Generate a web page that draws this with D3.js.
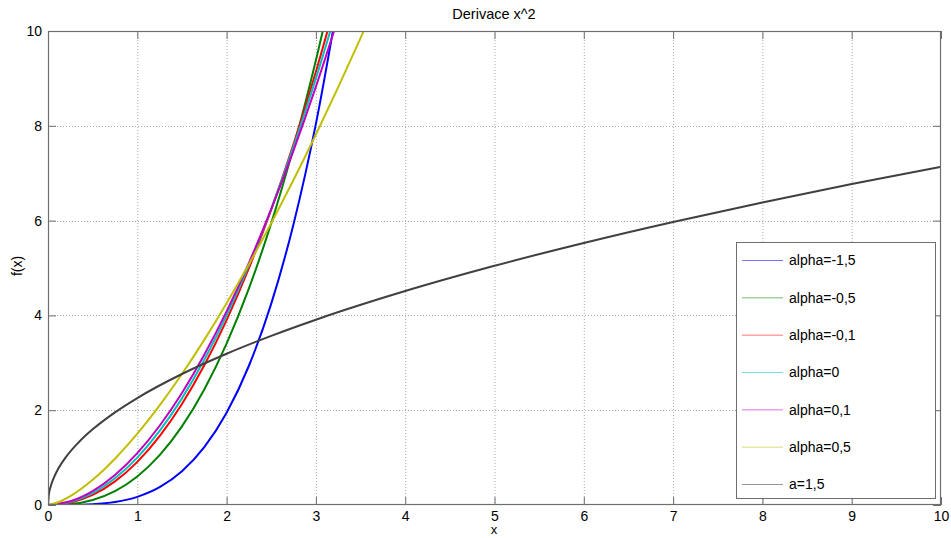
<!DOCTYPE html>
<html>
<head>
<meta charset="utf-8">
<script src="https://cdn.jsdelivr.net/npm/d3@7"></script>
<style>
  html, body { margin: 0; padding: 0; background: #fff; }
  svg { display: block; font-family: "Liberation Sans", Arial, Helvetica, sans-serif; }
</style>
</head>
<body>
<svg id="chart" width="951" height="538"></svg>
<script>
// Fractional derivatives of x^2, sampled values
const xSteep = [0, 0.25, 0.5, 0.75, 1, 1.25, 1.5, 1.75, 2, 2.25, 2.5, 2.75, 3, 3.25];
const yAlphaM15 = [0, 0.00134, 0.0152, 0.0628, 0.1719, 0.3755, 0.7107, 1.2190, 1.9453, 2.9378, 4.2478, 5.930, 8.0408, 10.641];
const yAlphaM05 = [0, 0.01881, 0.10638, 0.29316, 0.6018, 1.0513, 1.65837, 2.43808, 3.40432, 4.56992, 5.94706, 7.5471, 9.3812, 11.4594];
const yAlphaM01 = [0, 0.04952, 0.21228, 0.4974, 0.91007, 1.45408, 2.13239, 2.94736, 3.90154, 4.99613, 6.23342, 7.61469, 9.14169, 10.8149];
const yAlpha0   = [0, 0.0625, 0.25, 0.5625, 1, 1.5625, 2.25, 3.0625, 4, 5.0625, 6.25, 7.5625, 9, 10.5625];
const yAlpha01  = [0, 0.07857, 0.29325, 0.63361, 1.09447, 1.67236, 2.3647, 3.16951, 4.08472, 5.10937, 6.24185, 7.48095, 8.82543, 10.2752];

const xHalf = [0, 0.1, 0.25, 0.5, 0.75, 1, 1.25, 1.5, 1.75, 2, 2.25, 2.5, 2.75, 3, 3.25, 3.5, 3.75];
const yAlpha05 = [0, 0.04758, 0.18806, 0.53192, 0.97721, 1.50451, 2.10261, 2.76397, 3.48299, 4.2554, 5.07772, 5.9471, 6.86106, 7.81766, 8.81495, 9.85138, 10.9255];

const xRoot = [0, 0.01, 0.03, 0.06, 0.1, 0.2, 0.35, 0.5, 0.75, 1, 1.5, 2, 2.5, 3, 4, 5, 6, 7, 8, 9, 10];
const yA15 = [0, 0.22568, 0.39089, 0.55279, 0.71365, 1.00926, 1.33513, 1.59577, 1.95441, 2.25676, 2.76395, 3.19156, 3.56826, 3.90881, 4.51352, 5.04627, 5.52797, 5.97085, 6.38318, 6.77028, 7.13647];

const seriesNames = ["alpha=-1,5", "alpha=-0,5", "alpha=-0,1", "alpha=0", "alpha=0,1", "alpha=0,5", "a=1,5"];
const seriesColors = ["#0000ff", "#008000", "#ff0000", "#00bfbf", "#bf00bf", "#bfbf00", "#404040"];
const seriesX = [xSteep, xSteep, xSteep, xSteep, xSteep, xHalf, xRoot];
const seriesY = [yAlphaM15, yAlphaM05, yAlphaM01, yAlpha0, yAlpha01, yAlpha05, yA15];

const xTicks = [0, 1, 2, 3, 4, 5, 6, 7, 8, 9, 10];
const yTicks = [0, 2, 4, 6, 8, 10];

const svg = d3.select("#chart");
const L = 48, R = 941, T = 31, B = 505;

const x = d3.scaleLinear().domain([0, 10]).range([L, R]);
const y = d3.scaleLinear().domain([0, 10]).range([B, T]);

// grid
const grid = svg.append("g");
grid.selectAll("line.gx").data(xTicks.slice(1, -1)).join("line")
  .attr("x1", d => x(d) + 0.5).attr("x2", d => x(d) + 0.5)
  .attr("y1", T).attr("y2", B)
  .attr("stroke", "#aaa").attr("stroke-width", 1).attr("stroke-dasharray", "1,2");
grid.selectAll("line.gy").data(yTicks.slice(1, -1)).join("line")
  .attr("y1", d => Math.round(y(d)) + 0.5).attr("y2", d => Math.round(y(d)) + 0.5)
  .attr("x1", L).attr("x2", R)
  .attr("stroke", "#aaa").attr("stroke-width", 1).attr("stroke-dasharray", "1,2");

// clip to the axes box
svg.append("clipPath").attr("id", "plotclip")
  .append("rect").attr("x", L).attr("y", T).attr("width", R - L).attr("height", B - T);

const line = d3.line().curve(d3.curveMonotoneX);
const curves = svg.append("g").attr("clip-path", "url(#plotclip)");
seriesNames.forEach((name, i) => {
  const pts = seriesX[i].map((xv, j) => [x(xv), y(seriesY[i][j])]);
  curves.append("path")
    .attr("d", line(pts))
    .attr("fill", "none")
    .attr("stroke", seriesColors[i])
    .attr("stroke-width", 2);
});

// axes box and ticks
const axisColor = "#6e6e6e";
svg.append("rect").attr("x", L + 0.5).attr("y", T + 0.5)
  .attr("width", R - L - 1).attr("height", B - T - 1)
  .attr("fill", "none").attr("stroke", axisColor).attr("stroke-width", 1.2);

const xAxisB = d3.axisBottom(x).tickValues(xTicks).tickSize(-8).tickFormat(d3.format("d"));
const xAxisT = d3.axisTop(x).tickValues(xTicks).tickSize(-8).tickFormat("");
const yAxisL = d3.axisLeft(y).tickValues(yTicks).tickSize(-8).tickFormat(d3.format("d"));
const yAxisR = d3.axisRight(y).tickValues(yTicks).tickSize(-8).tickFormat("");

function styleAxis(g) {
  g.select(".domain").remove();
  g.selectAll(".tick line").attr("stroke", axisColor);
  g.selectAll(".tick text").attr("fill", "#000").attr("font-size", 14)
    .attr("font-family", "Liberation Sans, Arial, sans-serif");
}
svg.append("g").attr("transform", `translate(0,${B})`).call(xAxisB).call(styleAxis)
  .selectAll(".tick text").attr("y", 6).attr("dy", "0.71em");
svg.append("g").attr("transform", `translate(0,${T})`).call(xAxisT).call(styleAxis);
svg.append("g").attr("transform", `translate(${L},0)`).call(yAxisL).call(styleAxis)
  .selectAll(".tick text").attr("x", -6);
svg.append("g").attr("transform", `translate(${R},0)`).call(yAxisR).call(styleAxis);

// title and axis labels
svg.append("text").attr("x", 494).attr("y", 19).attr("text-anchor", "middle")
  .attr("font-size", 14.5).text("Derivace x^2");
svg.append("text").attr("x", 494).attr("y", 534).attr("text-anchor", "middle")
  .attr("font-size", 13).text("x");
svg.append("text").attr("transform", "translate(22,266) rotate(-90)")
  .attr("text-anchor", "middle").attr("font-size", 14).text("f(x)");

// legend
const lg = svg.append("g");
lg.append("rect").attr("x", 736.5).attr("y", 242.5).attr("width", 199).attr("height", 256)
  .attr("fill", "#fff").attr("stroke", axisColor).attr("stroke-width", 1);
const legendY = d3.scalePoint().domain(seriesNames).range([260.5, 484.5]);
seriesNames.forEach((name, i) => {
  const yy = legendY(name);
  lg.append("line").attr("x1", 742).attr("x2", 783).attr("y1", yy).attr("y2", yy)
    .attr("stroke", seriesColors[i]).attr("stroke-width", 1).attr("stroke-opacity", 0.55);
  lg.append("text").attr("x", 789).attr("y", yy).attr("dy", "0.35em")
    .attr("font-size", 14).text(name);
});
</script>
</body>
</html>
